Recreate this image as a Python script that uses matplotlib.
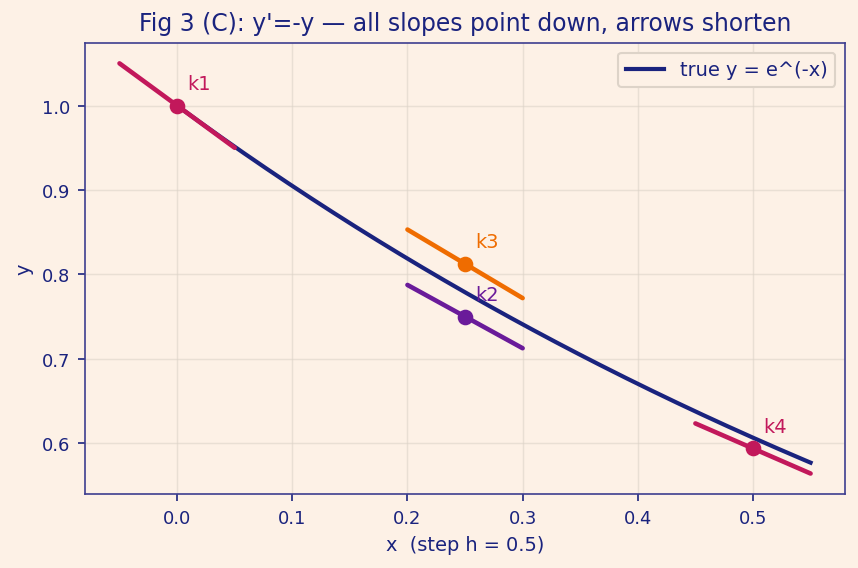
import numpy as np
import matplotlib
matplotlib.use("Agg")
import matplotlib.pyplot as plt

h = 0.5
x0, y0 = 0.0, 1.0
labels = ["k1", "k2", "k3", "k4"]
pt_x = [0.0, 0.25, 0.25, 0.5]
pt_y = [1.0, 0.75, 0.8125, 0.59375]
slopes = [-1.0, -0.75, -0.8125, -0.59375]
colors = ["#c2185b", "#6a1b9a", "#ef6c00", "#c2185b"]
half_len = 0.05
curve_x = np.linspace(0.0, 0.55, 200)

bg = "#fdf1e6"
navy = "#1a237e"

fig, ax = plt.subplots(figsize=(5.72, 3.793), dpi=150)
fig.patch.set_facecolor(bg)
ax.set_facecolor(bg)

ax.plot(curve_x, np.exp(-curve_x), color=navy, lw=2.0, label="true y = e^(-x)", zorder=2)
for lab, px, py, s, c in zip(labels, pt_x, pt_y, slopes, colors):
    xs = np.array([px - half_len, px + half_len])
    ax.plot(xs, py + s * (xs - px), color=c, lw=2.2, zorder=3, solid_capstyle="round")
    ax.plot([px], [py], "o", color=c, ms=6.5, zorder=4)
    ax.annotate(lab, (px, py), xytext=(5, 6), textcoords="offset points",
                color=c, fontsize=9.3, ha="left", va="bottom")

ax.grid(True, color="#ddd3c8", lw=0.7, alpha=0.6)
ax.set_title("Fig 3 (C): y'=-y — all slopes point down, arrows shorten", color=navy, fontsize=11.3)
ax.set_xlabel("x  (step h = 0.5)", color=navy, fontsize=9.3)
ax.set_ylabel("y", color=navy, fontsize=9.3)
ax.tick_params(colors=navy, labelcolor=navy, labelsize=8.6)
for sp in ax.spines.values():
    sp.set_color("#3d3d8f")
leg = ax.legend(loc="upper right", fontsize=9.3, facecolor=bg, edgecolor="#ddd3c8", labelcolor=navy)
leg.get_frame().set_alpha(1)

fig.subplots_adjust(left=0.099, right=0.985, top=0.923, bottom=0.13)
fig.savefig("out.png", dpi=150, facecolor=bg)
